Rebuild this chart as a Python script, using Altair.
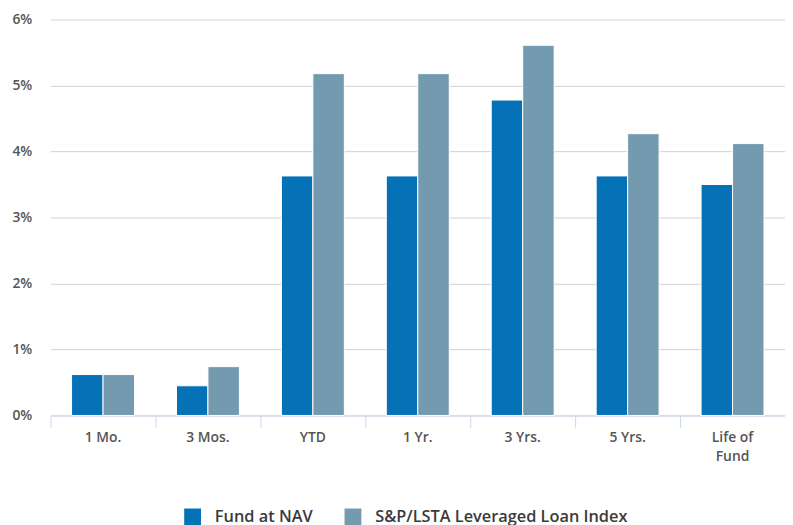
import altair as alt
import pandas as pd

categories = ["1 Mo.", "3 Mos.", "YTD", "1 Yr.", "3 Yrs.", "5 Yrs.", "Life of Fund"]
fund_at_nav = [0.62, 0.45, 3.63, 3.63, 4.78, 3.63, 3.50]
loan_index = [0.62, 0.74, 5.18, 5.18, 5.61, 4.27, 4.12]
series_names = ["Fund at NAV", "S&P/LSTA Leveraged Loan Index"]
series_colors = ["#0572b8", "#749ab0"]
y_ticks = [0, 1, 2, 3, 4, 5, 6]

rows = []
for c, a, b in zip(categories, fund_at_nav, loan_index):
    rows.append({"period": c, "series": series_names[0], "value": a})
    rows.append({"period": c, "series": series_names[1], "value": b})
df = pd.DataFrame(rows)

FONT = "Open Sans"

chart = alt.Chart(df).mark_bar(stroke="white", strokeWidth=1).encode(
    x=alt.X("period:N", sort=categories, title=None,
            scale=alt.Scale(paddingInner=0, paddingOuter=0),
            axis=alt.Axis(bandPosition=0, labelAngle=0,
                          tickSize=12, tickColor="#ccd6eb", domainColor="#ccd6eb",
                          labelPadding=3, labelFont=FONT, labelFontSize=14,
                          labelFontWeight=600, labelColor="#555555",
                          labelLineHeight=20,
                          labelExpr="datum.label == 'Life of Fund' ? ['Life of', 'Fund'] : datum.label")),
    xOffset=alt.XOffset("series:N", sort=series_names,
                        scale=alt.Scale(paddingInner=0, paddingOuter=0.667)),
    y=alt.Y("value:Q", title=None,
            scale=alt.Scale(domain=[0, 6], nice=False),
            axis=alt.Axis(values=y_ticks, labelExpr="datum.value + '%'",
                          domain=False, ticks=False, labelPadding=19,
                          gridColor="#d0d0d0", gridWidth=1,
                          labelFont=FONT, labelFontSize=14, labelFontWeight=600,
                          labelColor="#555555")),
    color=alt.Color("series:N", sort=series_names,
                    scale=alt.Scale(domain=series_names, range=series_colors),
                    legend=alt.Legend(title=None, orient="none", direction="horizontal",
                                      legendX=135, legendY=494,
                                      symbolType="square", symbolSize=289,
                                      symbolStrokeWidth=0, symbolOpacity=1,
                                      labelFont=FONT, labelFontSize=16.5, labelFontWeight=600,
                                      labelColor="#3a3a3a", labelOffset=14,
                                      columnPadding=32, labelLimit=400)),
).properties(
    width=742, height=400,
    autosize=alt.AutoSizeParams(type="none"),
    padding={"left": 43, "top": 9, "right": 0, "bottom": 108},
).configure_view(stroke=None)

chart.save("out.html", embed_options={"renderer": "svg", "actions": False})
